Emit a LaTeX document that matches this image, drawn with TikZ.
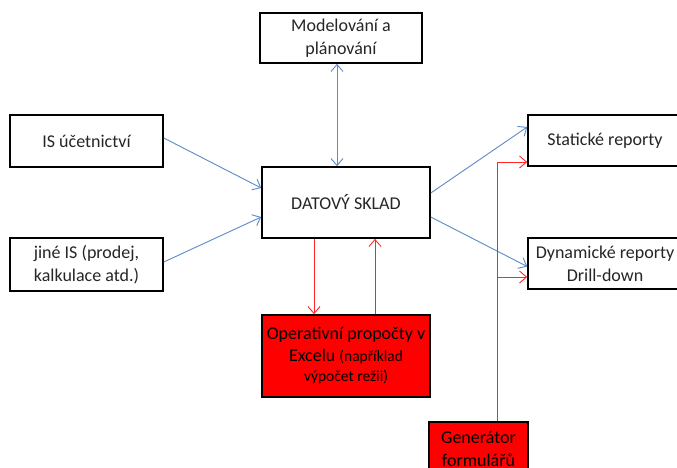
\documentclass[tikz,border=0pt]{standalone}
\usepackage{fontspec}
\setmainfont{Carlito}
\usetikzlibrary{arrows.meta}
\definecolor{flowblue}{HTML}{5B8BC9}
\definecolor{boxtext}{HTML}{262626}
\begin{document}
\begin{tikzpicture}[x=1pt,y=-1pt,
  box/.style={draw=black, line width=1.6pt, inner sep=0pt, align=center,
    text=boxtext, font=\fontsize{18}{23}\selectfont},
  redbox/.style={box, fill=red, text=black},
  bluearrow/.style={draw=flowblue, line width=0.9pt, -{Straight Barb[length=7pt,width=12pt]}},
  bluebiarrow/.style={draw=flowblue, line width=0.9pt, {Straight Barb[length=7pt,width=12pt]}-{Straight Barb[length=7pt,width=12pt]}},
  redline/.style={draw=red!85, line width=0.9pt},
  redarrow/.style={redline, -{Straight Barb[length=7pt,width=12pt]}},
  small/.style={font=\fontsize{15.5}{19}\selectfont}]
\useasboundingbox (0,0) rectangle (677,467);
\fill[white] (0,0) rectangle (677,467);
\clip (0,0) rectangle (677,467);

% boxes
\node[box, minimum width=162pt, minimum height=50pt] (model) at (341,38) {Modelování a\\plánování};
\node[box, minimum width=153pt, minimum height=52pt] (is) at (86.5,141) {IS účetnictví};
\node[box, minimum width=153pt, minimum height=53pt] (jine) at (86.5,264.5) {jiné IS (prodej,\\kalkulace atd.)};
\node[box, minimum width=168pt, minimum height=71pt] (dw) at (346,202.5) {DATOVÝ SKLAD};
\node[redbox, minimum width=168pt, minimum height=82pt] (op) at (346,356)
  {Operativní propočty v\\[-1pt]Excelu {\fontsize{15.5}{19}\selectfont (například}\\[-3pt]{\fontsize{15.5}{19}\selectfont výpočet režii)}};
\node[box, minimum width=154pt, minimum height=51pt] (stat) at (605,140.5) {Statické reporty};
\node[box, minimum width=154pt, minimum height=51pt] (dyn) at (605,263.5) {Dynamické reporty\\Drill-down};
\node[redbox, minimum width=99pt, minimum height=54pt] (gen) at (478.5,449) {Generátor\\formulářů};

% sources into the warehouse
\draw[bluearrow] ([yshift=3pt]is.east) -- ([yshift=14.5pt]dw.west);
\draw[bluearrow] ([yshift=2.5pt]jine.east) -- ([yshift=-14.5pt]dw.west);

% modelling <-> warehouse
\draw[bluebiarrow] ([xshift=-4pt]model.south) -- ([xshift=-4pt]model.south |- dw.north);

% warehouse to reports
\draw[bluearrow] ([yshift=9.5pt]dw.east) -- ([yshift=13.5pt]stat.west);
\draw[bluearrow] ([yshift=-14.5pt]dw.east) -- ([yshift=-3pt]dyn.west);

% warehouse <-> spreadsheet calculations
\draw[redarrow] ([xshift=-32pt]dw.south) -- ([xshift=-32pt]op.north);
\draw[redarrow] ([xshift=29pt]op.north) -- ([xshift=29pt]dw.south);

% form generator feeding both report boxes
\coordinate (jA) at (497,162);
\coordinate (jB) at (497,277);
\draw[redline] (gen.north -| jA) -- (jA);
\draw[redarrow] (jA) -- (jA -| stat.west);
\draw[redarrow] (jB) -- (jB -| dyn.west);
\end{tikzpicture}
\end{document}
